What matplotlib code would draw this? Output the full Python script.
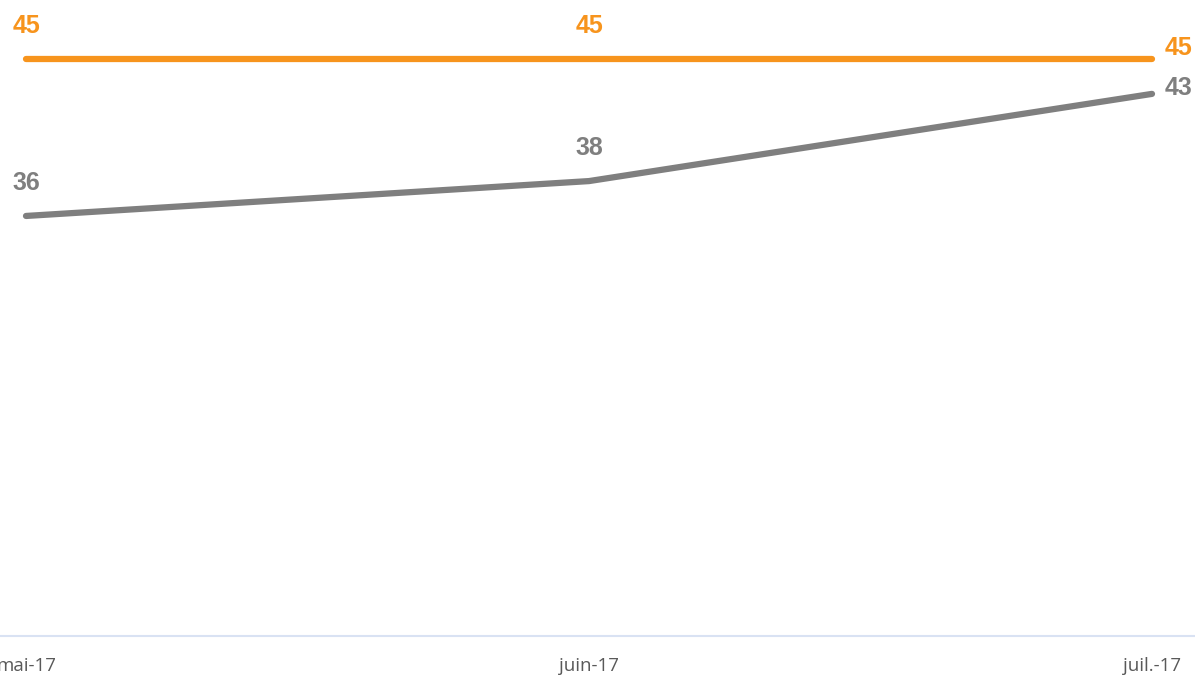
import matplotlib
matplotlib.use("Agg")
import matplotlib.pyplot as plt

months = ["mai-17", "juin-17", "juil.-17"]
orange_vals = [45, 45, 45]
grey_vals = [36, 38, 43]

ORANGE = "#F7941D"
GREY = "#7F7F7F"

plt.rcParams['font.family'] = ['Open Sans', 'DejaVu Sans']

fig = plt.figure(figsize=(11.95, 6.81), dpi=100)
ax = fig.add_axes([0, 1 - 636 / 681, 1, 636 / 681])

x = list(range(len(months)))
ax.plot(x, orange_vals, color=ORANGE, lw=4.5, solid_capstyle='round', zorder=3)
ax.plot(x, grey_vals, color=GREY, lw=4.5, solid_capstyle='round', zorder=3)

# pixel scale: 17.44 px per unit, 45 at y=59 px from top
ax.set_xlim(-26 / 563, 2 + 43 / 563)
ax.set_ylim(45 - 577 / 17.44, 45 + 59 / 17.44)

lab_kw = dict(fontsize=18, fontweight='bold', zorder=4,
              family=['Liberation Sans', 'DejaVu Sans'])
for i, (o, g) in enumerate(zip(orange_vals, grey_vals)):
    if i < len(months) - 1:
        ax.annotate(str(o), (i, o), xytext=(0, 24), textcoords='offset points',
                    ha='center', va='center', color=ORANGE, **lab_kw)
        ax.annotate(str(g), (i, g), xytext=(0, 24), textcoords='offset points',
                    ha='center', va='center', color=GREY, **lab_kw)
    else:
        ax.annotate(str(o), (i, o), xytext=(19, 8), textcoords='offset points',
                    ha='center', va='center', color=ORANGE, **lab_kw)
        ax.annotate(str(g), (i, g), xytext=(19, 4), textcoords='offset points',
                    ha='center', va='center', color=GREY, **lab_kw)

ax.set_xticks(x)
ax.set_xticklabels(months, fontsize=13.5, color="#595959")
ax.tick_params(axis='x', length=0, pad=15)
ax.set_yticks([])
for s in ['top', 'right', 'left']:
    ax.spines[s].set_visible(False)
ax.spines['bottom'].set_color("#D9E2F3")
ax.spines['bottom'].set_linewidth(1.5)
ax.patch.set_alpha(0)

fig.savefig("out.png", dpi=100)
